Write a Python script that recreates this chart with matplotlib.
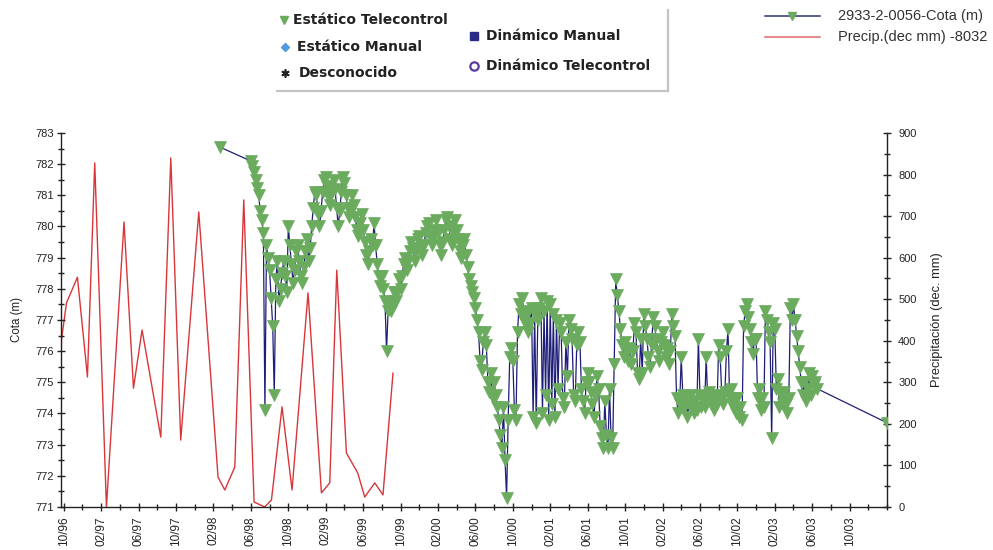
import numpy as np
import matplotlib
matplotlib.use("Agg")
import matplotlib.pyplot as plt

# Time axis: months counted from October 1996
etiquetas_fecha = ["10/96", "02/97", "06/97", "10/97", "02/98", "06/98", "10/98",
                   "02/99", "06/99", "10/99", "02/00", "06/00", "10/00", "02/01",
                   "06/01", "10/01", "02/02", "06/02", "10/02", "02/03", "06/03",
                   "10/03"]
meses_etiqueta = list(range(0, 85, 4))

# Precipitation (dec. mm), right axis
precip_mes = [-0.3, -0.25, 0.29, 1.46, 2.53, 3.31, 4.56, 6.44, 7.45, 8.37, 10.37,
              11.44, 12.5, 14.43, 16.49, 17.21, 18.28, 19.24, 20.34, 21.48, 22.2,
              23.33, 24.4, 26.11, 27.54, 28.43, 29.18, 30.21, 31.42, 32.17, 33.24,
              34.12, 35.19]
precip_val = [305, 402, 491, 553, 313, 828, 0, 686, 286, 426, 168,
              840, 161, 710, 72, 41, 96, 739, 12, 0, 17,
              241, 41, 515, 34, 58, 570, 130, 82, 24, 58,
              29, 322]

# Water level (m): isolated early and late readings
cota_mes_aislado = [16.67, 88.0]
cota_val_aislado = [782.55, 773.7]

# Water level (m): telemetry readings, six per month from June 1998
cota_inicio = 20.0
cota_paso = 1.0 / 6.0
cota_val = [
    782.1, 781.95, 781.75, 781.5, 781.25, 781.0,   # 06/98
    780.5, 780.2, 779.8, 774.1, 779.4, 779.0,
    778.6, 777.7, 776.8, 774.6, 778.3, 778.9,
    777.6, 778.0, 778.5, 778.9, 778.4, 777.9,
    780.0, 779.4, 778.8, 778.2, 778.6, 779.2,      # 10/98
    779.4, 778.9, 778.4, 778.2, 778.7, 779.2,
    779.6, 778.9, 779.3, 780.0, 780.6, 781.1,
    781.0, 780.4, 780.0, 780.5, 781.1, 781.5,
    781.6, 781.3, 780.9, 780.7, 781.1, 781.5,      # 02/99
    781.2, 780.6, 780.0, 780.5, 781.1, 781.6,
    781.4, 781.0, 780.6, 780.3, 780.6, 781.0,
    780.7, 780.3, 779.9, 779.7, 780.1, 780.4,
    779.9, 779.5, 779.1, 778.8, 779.2, 779.6,      # 06/99
    779.4, 780.1, 779.4, 778.8, 778.4, 778.1,
    778.4, 778.0, 777.6, 776.0, 777.3, 777.5,
    777.3, 777.6, 777.9, 777.6, 777.9, 778.3,
    778.0, 778.4, 778.8, 779.0, 778.6, 778.9,      # 10/99
    779.2, 779.5, 779.3, 778.9, 779.2, 779.6,
    779.7, 779.4, 779.1, 779.4, 779.8, 780.0,
    780.1, 779.7, 779.4, 779.6, 779.9, 780.2,
    779.8, 779.4, 779.1, 779.5, 779.9, 780.2,      # 02/00
    780.3, 780.0, 779.6, 779.4, 779.8, 780.2,
    779.9, 779.6, 779.2, 779.0, 779.4, 779.6,
    779.1, 778.7, 778.3, 778.1, 777.9, 777.7,
    777.4, 777.0, 776.6, 775.7, 775.4, 776.3,      # 06/00
    776.6, 776.2, 775.0, 774.7, 775.3, 774.5,
    775.0, 774.6, 774.2, 773.8, 773.3, 772.9,
    774.2, 772.5, 771.3, 773.8, 775.8, 776.1,
    775.7, 774.1, 773.8, 776.6, 777.5, 777.2,      # 10/00
    777.7, 777.3, 776.9, 777.2, 776.6, 776.9,
    777.4, 773.9, 777.2, 773.7, 777.0, 777.4,
    777.7, 774.0, 777.3, 774.6, 777.6, 773.8,
    777.5, 774.3, 777.2, 773.9, 777.0, 774.8,      # 02/01
    776.9, 776.6, 774.5, 774.2, 776.3, 775.2,
    777.0, 776.7, 776.4, 774.6, 774.4, 776.2,
    776.6, 776.3, 774.8, 774.4, 774.0, 775.0,
    775.3, 775.0, 774.7, 774.3, 773.9, 774.6,      # 06/01
    775.2, 774.8, 773.6, 773.2, 772.9, 774.4,
    773.3, 772.9, 774.8, 773.2, 772.9, 775.6,
    778.3, 777.8, 777.3, 776.7, 776.2, 775.8,
    776.3, 776.0, 775.7, 776.1, 775.6, 776.0,      # 10/01
    776.9, 776.6, 775.3, 775.1, 776.4, 775.3,
    777.2, 776.8, 776.4, 775.8, 775.5, 776.2,
    777.1, 776.8, 776.4, 776.0, 775.7, 776.3,
    776.6, 776.2, 775.8, 776.1, 775.6, 776.0,      # 02/02
    777.2, 776.8, 776.5, 774.5, 774.0, 774.3,
    775.8, 774.6, 774.2, 774.5, 773.9, 774.3,
    774.6, 774.3, 774.0, 774.4, 774.1, 776.4,
    774.6, 774.2, 774.5, 774.2, 775.8, 774.4,      # 06/02
    774.7, 774.3, 774.6, 774.1, 774.5, 774.3,
    776.2, 775.8, 774.6, 774.3, 774.7, 776.0,
    776.7, 774.5, 774.8, 774.2, 774.5, 774.0,
    774.5, 773.9, 774.2, 773.8, 776.8, 777.3,      # 10/02
    777.5, 777.1, 776.7, 776.3, 775.9, 776.4,
    776.4, 774.5, 774.8, 774.1, 774.5, 774.2,
    777.3, 777.0, 776.6, 776.3, 773.2, 776.9,
    776.7, 774.8, 775.1, 774.2, 774.6, 774.3,      # 02/03
    774.7, 774.3, 774.0, 774.5, 777.4, 777.0,
    777.5, 777.0, 776.5, 776.0, 775.5, 775.0,
    774.6, 775.0, 774.4, 774.8, 775.3, 774.6,
    775.2, 774.9, 775.0, 774.8,                    # 06/03
]

verde = "#6aab5e"
azul = "#1e1e78"
rojo = "#d9363a"
texto = "#222222"
fuente_ejes = ["Liberation Sans", "DejaVu Sans"]

cota_mes = cota_inicio + cota_paso * np.arange(len(cota_val))
serie_mes = np.concatenate([[cota_mes_aislado[0]], cota_mes, [cota_mes_aislado[1]]])
serie_val = np.concatenate([[cota_val_aislado[0]], cota_val, [cota_val_aislado[1]]])

fig = plt.figure(figsize=(9.93, 5.5), dpi=100)
ax = fig.add_axes([0.0614, 0.0782, 0.8319, 0.680])
ax2 = ax.twinx()
ax.set_zorder(ax2.get_zorder() + 1)
ax.patch.set_visible(False)

ax2.plot(precip_mes, precip_val, color=rojo, lw=1.0, zorder=2)
ax.plot(serie_mes, serie_val, color=azul, lw=0.9, zorder=3,
        marker="v", markersize=9.0, markerfacecolor=verde,
        markeredgecolor=verde, markeredgewidth=0.5)

ax.set_xlim(-0.3, 88.0)
ax.set_ylim(771, 783)
ax2.set_ylim(0, 900)

ax.set_xticks(meses_etiqueta)
ax.set_xticklabels(etiquetas_fecha, rotation=90, fontsize=8.5,
                   family=fuente_ejes, color=texto)
ax.set_xticks(np.arange(0, 89, 2), minor=True)
ax.set_yticks(np.arange(771, 784, 1))
ax.set_yticks(np.arange(771, 783.1, 0.5), minor=True)
ax2.set_yticks(np.arange(0, 901, 100))
ax2.set_yticks(np.arange(0, 901, 50), minor=True)

for a in (ax, ax2):
    a.tick_params(which="both", direction="inout", color="#222222", width=1.0)
    a.tick_params(which="major", length=6)
    a.tick_params(which="minor", length=5)
    a.spines["top"].set_visible(False)
    for s in a.spines.values():
        s.set_color("#222222")
        s.set_linewidth(1.0)
ax.spines["right"].set_visible(False)
ax2.spines["left"].set_visible(False)
ax2.spines["bottom"].set_visible(False)

for lab in ax.get_yticklabels() + ax2.get_yticklabels():
    lab.set_fontsize(8)
    lab.set_family(fuente_ejes)
    lab.set_color(texto)
ax.tick_params(axis="y", pad=2)
ax2.tick_params(axis="y", pad=5)

ax.set_ylabel("Cota (m)", fontsize=8.3, family=fuente_ejes, color=texto, labelpad=9)
ax2.set_ylabel("Precipitación (dec. mm)", fontsize=9.3, family=fuente_ejes,
               color=texto, labelpad=10)

# Overlay in pixel units for the two legend blocks
lay = fig.add_axes([0, 0, 1, 1])
lay.set_xlim(0, 993)
lay.set_ylim(550, 0)
lay.axis("off")

lay.plot([277, 668], [91, 91], color="#c4c4c4", lw=1.6)
lay.plot([668, 668], [10, 91], color="#c4c4c4", lw=1.6)

fuente_ley = dict(fontsize=10, fontweight="bold", color=texto, va="center",
                  family=["DejaVu Sans"])
lay.plot([284], [20], marker="v", ms=6, color=verde, mec=verde)
lay.text(293, 20, "Estático Telecontrol", **fuente_ley)
lay.plot([285], [47], marker="D", ms=4.5, color="#4f9be0", mec="#4f9be0")
lay.text(297, 47, "Estático Manual", **fuente_ley)
lay.plot([285], [73], marker=(6, 2, 0), ms=6, color="#222222", mew=1.2)
lay.text(299, 73, "Desconocido", **fuente_ley)
lay.plot([474], [36], marker="s", ms=5.5, color="#2c2c88", mec="#2c2c88")
lay.text(486, 36, "Dinámico Manual", **fuente_ley)
lay.plot([474], [66], marker="o", ms=6, mfc="white", mec="#5b3a9c", mew=1.6)
lay.text(486, 66, "Dinámico Telecontrol", **fuente_ley)

fuente_serie = dict(fontsize=10.5, color="#333333", va="center",
                    family=["Liberation Sans", "DejaVu Sans"])
lay.plot([765, 820], [16, 16], color="#2a3570", lw=1.1)
lay.plot([792], [16], marker="v", ms=5.5, color=verde, mec=verde)
lay.text(838, 16, "2933-2-0056-Cota (m)", **fuente_serie)
lay.plot([765, 820], [37, 37], color="#e06a6a", lw=1.1)
lay.text(838, 37, "Precip.(dec mm) -8032", **fuente_serie)

fig.savefig("out.png", dpi=100)
